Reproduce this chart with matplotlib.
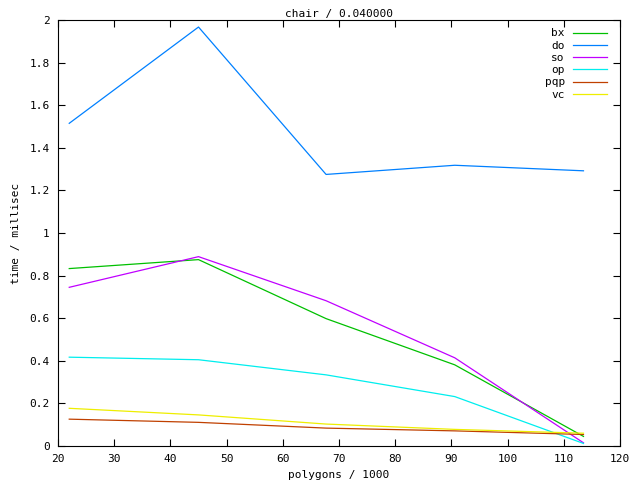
import matplotlib
matplotlib.use('Agg')
import matplotlib.pyplot as plt
from matplotlib.ticker import FuncFormatter, MultipleLocator

# datos
poligonos = [22, 45, 67.7, 90.6, 113.5]   # polygons / 1000
bx = [0.833, 0.875, 0.598, 0.381, 0.045]
do = [1.515, 1.967, 1.275, 1.318, 1.292]
so = [0.745, 0.889, 0.682, 0.414, 0.015]
op = [0.417, 0.405, 0.334, 0.232, 0.012]
pqp = [0.126, 0.111, 0.084, 0.071, 0.054]
vc = [0.177, 0.146, 0.103, 0.078, 0.060]

series = [('bx', bx, '#00c000'), ('do', do, '#0080ff'), ('so', so, '#c000ff'),
          ('op', op, '#00eeee'), ('pqp', pqp, '#c04000'), ('vc', vc, '#eeee00')]

plt.rcParams['font.family'] = 'DejaVu Sans Mono'
plt.rcParams['font.size'] = 8

fig = plt.figure(figsize=(6.4, 4.8), dpi=100, facecolor='white')
ax = fig.add_axes([58/640, 34/480, 562/640, 426/480])

for nombre, valores, color in series:
    ax.plot(poligonos, valores, color=color, lw=0.9, label=nombre)

ax.set_xlim(20, 120)
ax.set_ylim(0, 2)
ax.xaxis.set_major_locator(MultipleLocator(10))
ax.yaxis.set_major_locator(MultipleLocator(0.2))
fmt = FuncFormatter(lambda v, p: '%g' % round(v, 6))
ax.xaxis.set_major_formatter(fmt)
ax.yaxis.set_major_formatter(fmt)
ax.tick_params(direction='in', top=True, right=True, length=5, width=0.8, pad=6)
for spine in ax.spines.values():
    spine.set_linewidth(0.8)

ax.set_xlabel('polygons / 1000', labelpad=4)
ax.set_ylabel('time / millisec', labelpad=6)
ax.set_title('chair / 0.040000', pad=2, fontsize=8)

leg = ax.legend(loc='upper right', markerfirst=False, frameon=False,
                handlelength=3.1, labelspacing=0.2, handletextpad=0.7,
                borderaxespad=0.0, borderpad=0.0,
                bbox_to_anchor=(607/640, 1 - 28.5/480), bbox_transform=fig.transFigure)

fig.savefig('out.png', dpi=100)
